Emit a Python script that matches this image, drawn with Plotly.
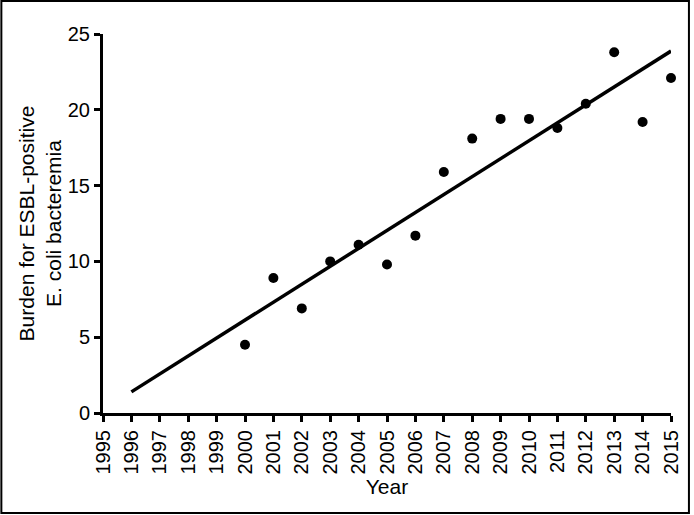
import numpy as np
import plotly.graph_objects as go

years = [2000, 2001, 2002, 2003, 2004, 2005, 2006, 2007,
         2008, 2009, 2010, 2011, 2012, 2013, 2014, 2015]
burden = [4.5, 8.9, 6.9, 10.0, 11.1, 9.8, 11.7, 15.9,
          18.1, 19.4, 19.4, 18.8, 20.4, 23.8, 19.2, 22.1]
line_years = [1996, 2015]
x_ticks = list(range(1995, 2016))
y_ticks = [0, 5, 10, 15, 20, 25]

slope, intercept = np.polyfit(years, burden, 1)
line_vals = [slope * x + intercept for x in line_years]

FONT = "Liberation Sans, Arial, sans-serif"

fig = go.Figure()
fig.add_trace(go.Scatter(x=line_years, y=line_vals, mode="lines",
                         line=dict(color="black", width=3.5),
                         showlegend=False, cliponaxis=False))
fig.add_trace(go.Scatter(x=years, y=burden, mode="markers",
                         marker=dict(color="black", size=10),
                         showlegend=False, cliponaxis=False))

fig.update_layout(
    width=694, height=515,
    margin=dict(l=103, r=21, t=34, b=102),
    paper_bgcolor="white", plot_bgcolor="white",
    font=dict(family=FONT, size=20, color="black"),
    xaxis=dict(range=[1995, 2015], tickvals=x_ticks,
               ticktext=[str(t) for t in x_ticks], tickangle=-90,
               showgrid=False, zeroline=False, showline=True,
               linecolor="black", linewidth=3, ticks="outside",
               ticklen=6, tickwidth=3, tickcolor="black",
               tickfont=dict(size=20),
               title=dict(text="Year", font=dict(size=21), standoff=6)),
    yaxis=dict(range=[0, 25], tickvals=y_ticks,
               showgrid=False, zeroline=False, showline=True,
               linecolor="black", linewidth=3, ticks="outside",
               ticklen=6, tickwidth=3, tickcolor="black",
               tickfont=dict(size=20),
               title=dict(text="Burden for ESBL-positive<br>E. coli bacteremia",
                          font=dict(size=21), standoff=1)),
    shapes=[dict(type="rect", xref="paper", yref="paper",
                 x0=(1 - 103) / 570, x1=(691 - 103) / 570,
                 y0=(413 - 513) / 379, y1=(413 - 1) / 379,
                 line=dict(color="black", width=2), layer="below")],
)

fig.write_html("out.html",
               config={"displayModeBar": False},
               post_script="document.body.style.margin='0';"
                           "document.body.style.overflow='hidden';")
